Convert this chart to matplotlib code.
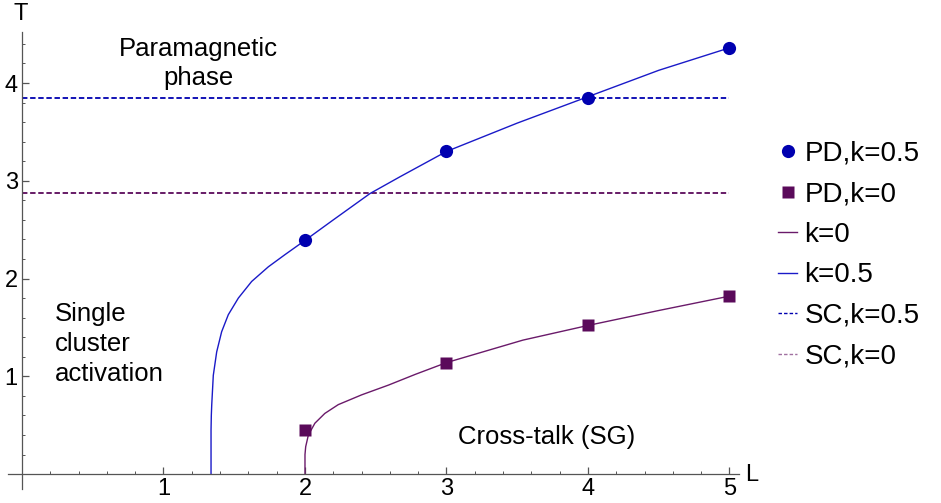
import numpy as np
import matplotlib
matplotlib.use("Agg")
import matplotlib.pyplot as plt
from matplotlib.lines import Line2D
from matplotlib.ticker import MultipleLocator, FixedLocator

plt.rcParams['font.family'] = ['Liberation Sans', 'DejaVu Sans']

# simulated points
L_pts = [2, 3, 4, 5]
T_pd_k05 = [2.39, 3.30, 3.85, 4.355]
T_pd_k0 = [0.45, 1.14, 1.52, 1.82]

# theory curves, points
L_th_k05 = [1.336, 1.336, 1.338, 1.341, 1.352, 1.376, 1.411, 1.458, 1.529,
            1.623, 1.741, 1.859, 2.0, 2.2, 2.46, 2.67, 3.0, 3.5, 4.0, 4.5, 5.0]
T_th_k05 = [0.0, 0.45, 0.60, 0.71, 1.01, 1.25, 1.456, 1.63, 1.80,
            1.97, 2.12, 2.245, 2.39, 2.60, 2.87, 3.04, 3.30, 3.59, 3.86, 4.13, 4.36]
L_th_k0 = [2.0, 2.0, 2.005, 2.024, 2.07, 2.14, 2.235, 2.40, 2.59, 2.78,
           3.0, 3.54, 4.0, 4.49, 5.0]
T_th_k0 = [0.0, 0.20, 0.28, 0.40, 0.52, 0.62, 0.71, 0.81, 0.91, 1.02,
           1.14, 1.37, 1.52, 1.67, 1.82]

# single-cluster thresholds
T_sc_k05 = 3.85
T_sc_k0 = 2.88
L_sc = [0, 5]

blue = '#0000b0'
blue_line = '#1a1ac8'
purple = '#5a0a5a'
purple_line = '#6a1a6a'

fig = plt.figure(figsize=(9.41, 5.03), dpi=100)
ax = fig.add_axes([0.00834, 0.0284, 0.7774, 0.9076])

ax.plot(L_sc, [T_sc_k05] * 2, '--', color=blue, lw=1.3, dashes=(3, 1.5))
ax.plot(L_sc, [T_sc_k0] * 2, '--', color=purple, lw=1.3, dashes=(3, 1.5))
ax.plot(L_th_k05, T_th_k05, color=blue_line, lw=1.0)
ax.plot(L_th_k0, T_th_k0, color=purple_line, lw=1.0)
ax.plot(L_pts, T_pd_k05, 'o', color=blue, ms=9.5, mec='none', zorder=5)
ax.plot(L_pts, T_pd_k0, 's', color=purple, ms=8, mec='none', zorder=5)

ax.set_xlim(-0.1, 5.07)
ax.set_ylim(-0.15, 4.52)

for s in ['top', 'right']:
    ax.spines[s].set_visible(False)
ax.spines['left'].set_position(('data', 0))
ax.spines['bottom'].set_position(('data', 0))
for s in ['left', 'bottom']:
    ax.spines[s].set_color('#555555')
    ax.spines[s].set_linewidth(0.9)

ax.xaxis.set_major_locator(FixedLocator([1, 2, 3, 4, 5]))
ax.yaxis.set_major_locator(FixedLocator([1, 2, 3, 4]))
ax.xaxis.set_minor_locator(MultipleLocator(0.2))
ax.yaxis.set_minor_locator(MultipleLocator(0.2))
ax.tick_params(which='major', direction='in', length=5, width=0.9,
               color='#555555', labelsize=17, pad=3)
ax.tick_params(which='minor', direction='in', length=2.5, width=0.7,
               color='#555555')
ax.patch.set_alpha(0)

# axis names
fig.text(21 / 941, 1 - 13.5 / 503, 'T', ha='center', va='center', fontsize=17)
fig.text(752 / 941, 1 - 475 / 503, 'L', ha='center', va='center', fontsize=17)

# region labels
ax.text(1.25, 4.20, 'Paramagnetic\nphase', ha='center', va='center',
        fontsize=18.5, linespacing=1.25)
ax.text(0.23, 1.33, 'Single\ncluster\nactivation', ha='left', va='center',
        fontsize=18.5, linespacing=1.3)
ax.text(3.08, 0.38, 'Cross-talk (SG)', ha='left', va='center', fontsize=18.5)

handles = [
    Line2D([], [], ls='none', marker='o', color=blue, ms=9.5, mec='none'),
    Line2D([], [], ls='none', marker='s', color=purple, ms=8, mec='none'),
    Line2D([], [], color=purple_line, lw=1.0),
    Line2D([], [], color=blue_line, lw=1.0),
    Line2D([], [], color=blue, lw=1.0, ls='--', dashes=(2.5, 1.5)),
    Line2D([], [], color='#a070a0', lw=1.0, ls='--', dashes=(2.5, 1.5)),
]
labels = ['PD,k=0.5', 'PD,k=0', 'k=0', 'k=0.5', 'SC,k=0.5', 'SC,k=0']
fig.legend(handles, labels, loc='upper left',
           bbox_to_anchor=(778 / 941, 1 - 141 / 503), frameon=False,
           fontsize=20, handlelength=0.7, handletextpad=0.25,
           labelspacing=0.52, borderpad=0, borderaxespad=0)

fig.savefig('out.png', dpi=100)
